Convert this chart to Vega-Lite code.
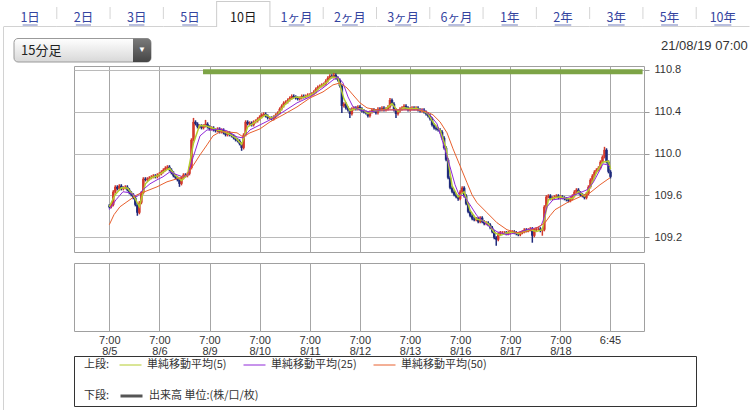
{
 "$schema": "https://vega.github.io/schema/vega-lite/v6.json",
 "padding": 0,
 "background": "white",
 "config": {"view": {"stroke": null}, "font": "Liberation Sans"},
 "datasets": {
  "px": [
{"t":0,"o":109.5,"h":109.515,"l":109.475,"c":109.49},
{"t":0.04,"o":109.49,"h":109.524,"l":109.475,"c":109.509},
{"t":0.08,"o":109.509,"h":109.649,"l":109.494,"c":109.634},
{"t":0.12,"o":109.634,"h":109.696,"l":109.619,"c":109.681},
{"t":0.16,"o":109.681,"h":109.696,"l":109.647,"c":109.662},
{"t":0.2,"o":109.662,"h":109.706,"l":109.647,"c":109.691},
{"t":0.24,"o":109.691,"h":109.706,"l":109.647,"c":109.662},
{"t":0.28,"o":109.662,"h":109.687,"l":109.647,"c":109.672},
{"t":0.32,"o":109.672,"h":109.696,"l":109.657,"c":109.681},
{"t":0.36,"o":109.681,"h":109.696,"l":109.638,"c":109.653},
{"t":0.4,"o":109.653,"h":109.668,"l":109.609,"c":109.624},
{"t":0.44,"o":109.624,"h":109.639,"l":109.59,"c":109.605},
{"t":0.48,"o":109.605,"h":109.62,"l":109.561,"c":109.576},
{"t":0.52,"o":109.576,"h":109.591,"l":109.494,"c":109.509},
{"t":0.56,"o":109.509,"h":109.524,"l":109.404,"c":109.433},
{"t":0.6,"o":109.433,"h":109.544,"l":109.418,"c":109.529},
{"t":0.64,"o":109.529,"h":109.639,"l":109.514,"c":109.624},
{"t":0.68,"o":109.624,"h":109.773,"l":109.609,"c":109.758},
{"t":0.72,"o":109.758,"h":109.773,"l":109.733,"c":109.748},
{"t":0.76,"o":109.748,"h":109.773,"l":109.733,"c":109.758},
{"t":0.8,"o":109.758,"h":109.783,"l":109.743,"c":109.768},
{"t":0.84,"o":109.768,"h":109.792,"l":109.753,"c":109.777},
{"t":0.88,"o":109.777,"h":109.802,"l":109.762,"c":109.787},
{"t":0.92,"o":109.787,"h":109.802,"l":109.762,"c":109.777},
{"t":0.96,"o":109.777,"h":109.811,"l":109.762,"c":109.796},
{"t":1.0,"o":109.796,"h":109.821,"l":109.781,"c":109.806},
{"t":1.04,"o":109.806,"h":109.84,"l":109.791,"c":109.825},
{"t":1.08,"o":109.825,"h":109.859,"l":109.81,"c":109.844},
{"t":1.12,"o":109.844,"h":109.878,"l":109.829,"c":109.863},
{"t":1.16,"o":109.863,"h":109.888,"l":109.848,"c":109.873},
{"t":1.2,"o":109.873,"h":109.888,"l":109.829,"c":109.844},
{"t":1.24,"o":109.844,"h":109.859,"l":109.8,"c":109.815},
{"t":1.28,"o":109.815,"h":109.83,"l":109.772,"c":109.787},
{"t":1.32,"o":109.787,"h":109.802,"l":109.753,"c":109.768},
{"t":1.36,"o":109.768,"h":109.783,"l":109.733,"c":109.748},
{"t":1.4,"o":109.748,"h":109.763,"l":109.681,"c":109.71},
{"t":1.44,"o":109.71,"h":109.783,"l":109.695,"c":109.768},
{"t":1.48,"o":109.768,"h":109.811,"l":109.753,"c":109.796},
{"t":1.52,"o":109.796,"h":109.811,"l":109.772,"c":109.787},
{"t":1.56,"o":109.787,"h":109.821,"l":109.772,"c":109.806},
{"t":1.6,"o":109.806,"h":109.878,"l":109.791,"c":109.863},
{"t":1.64,"o":109.863,"h":110.146,"l":109.848,"c":110.131},
{"t":1.68,"o":110.131,"h":110.341,"l":110.116,"c":110.303},
{"t":1.72,"o":110.303,"h":110.318,"l":110.269,"c":110.284},
{"t":1.76,"o":110.284,"h":110.299,"l":110.24,"c":110.255},
{"t":1.8,"o":110.255,"h":110.28,"l":110.24,"c":110.265},
{"t":1.84,"o":110.265,"h":110.28,"l":110.231,"c":110.246},
{"t":1.88,"o":110.246,"h":110.28,"l":110.231,"c":110.265},
{"t":1.92,"o":110.265,"h":110.322,"l":110.25,"c":110.284},
{"t":1.96,"o":110.284,"h":110.299,"l":110.24,"c":110.255},
{"t":2.0,"o":110.255,"h":110.27,"l":110.221,"c":110.236},
{"t":2.04,"o":110.236,"h":110.261,"l":110.221,"c":110.246},
{"t":2.08,"o":110.246,"h":110.261,"l":110.211,"c":110.226},
{"t":2.12,"o":110.226,"h":110.241,"l":110.202,"c":110.217},
{"t":2.16,"o":110.217,"h":110.251,"l":110.202,"c":110.236},
{"t":2.2,"o":110.236,"h":110.251,"l":110.192,"c":110.207},
{"t":2.24,"o":110.207,"h":110.241,"l":110.192,"c":110.226},
{"t":2.28,"o":110.226,"h":110.241,"l":110.183,"c":110.198},
{"t":2.32,"o":110.198,"h":110.213,"l":110.164,"c":110.179},
{"t":2.36,"o":110.179,"h":110.213,"l":110.164,"c":110.198},
{"t":2.4,"o":110.198,"h":110.213,"l":110.164,"c":110.179},
{"t":2.44,"o":110.179,"h":110.194,"l":110.154,"c":110.169},
{"t":2.48,"o":110.169,"h":110.184,"l":110.135,"c":110.15},
{"t":2.52,"o":110.15,"h":110.165,"l":110.116,"c":110.131},
{"t":2.56,"o":110.131,"h":110.146,"l":110.106,"c":110.121},
{"t":2.6,"o":110.121,"h":110.136,"l":110.078,"c":110.093},
{"t":2.64,"o":110.093,"h":110.108,"l":110.026,"c":110.054},
{"t":2.68,"o":110.054,"h":110.194,"l":110.039,"c":110.179},
{"t":2.72,"o":110.179,"h":110.318,"l":110.164,"c":110.303},
{"t":2.76,"o":110.303,"h":110.318,"l":110.269,"c":110.284},
{"t":2.8,"o":110.284,"h":110.308,"l":110.269,"c":110.293},
{"t":2.84,"o":110.293,"h":110.308,"l":110.259,"c":110.274},
{"t":2.88,"o":110.274,"h":110.318,"l":110.259,"c":110.303},
{"t":2.92,"o":110.303,"h":110.327,"l":110.288,"c":110.312},
{"t":2.96,"o":110.312,"h":110.347,"l":110.297,"c":110.332},
{"t":3.0,"o":110.332,"h":110.366,"l":110.317,"c":110.351},
{"t":3.04,"o":110.351,"h":110.385,"l":110.336,"c":110.37},
{"t":3.08,"o":110.37,"h":110.394,"l":110.355,"c":110.379},
{"t":3.12,"o":110.379,"h":110.394,"l":110.345,"c":110.36},
{"t":3.16,"o":110.36,"h":110.375,"l":110.326,"c":110.341},
{"t":3.2,"o":110.341,"h":110.356,"l":110.326,"c":110.341},
{"t":3.24,"o":110.341,"h":110.356,"l":110.317,"c":110.332},
{"t":3.28,"o":110.332,"h":110.366,"l":110.317,"c":110.351},
{"t":3.32,"o":110.351,"h":110.385,"l":110.336,"c":110.37},
{"t":3.36,"o":110.37,"h":110.404,"l":110.355,"c":110.389},
{"t":3.4,"o":110.389,"h":110.442,"l":110.374,"c":110.427},
{"t":3.44,"o":110.427,"h":110.471,"l":110.412,"c":110.456},
{"t":3.48,"o":110.456,"h":110.5,"l":110.441,"c":110.485},
{"t":3.52,"o":110.485,"h":110.509,"l":110.47,"c":110.494},
{"t":3.56,"o":110.494,"h":110.528,"l":110.479,"c":110.513},
{"t":3.6,"o":110.513,"h":110.547,"l":110.498,"c":110.532},
{"t":3.64,"o":110.532,"h":110.566,"l":110.517,"c":110.551},
{"t":3.68,"o":110.551,"h":110.566,"l":110.527,"c":110.542},
{"t":3.72,"o":110.542,"h":110.557,"l":110.517,"c":110.532},
{"t":3.76,"o":110.532,"h":110.547,"l":110.508,"c":110.523},
{"t":3.8,"o":110.523,"h":110.547,"l":110.508,"c":110.532},
{"t":3.84,"o":110.532,"h":110.566,"l":110.517,"c":110.551},
{"t":3.88,"o":110.551,"h":110.566,"l":110.527,"c":110.542},
{"t":3.92,"o":110.542,"h":110.566,"l":110.527,"c":110.551},
{"t":3.96,"o":110.551,"h":110.576,"l":110.536,"c":110.561},
{"t":4.0,"o":110.561,"h":110.576,"l":110.546,"c":110.561},
{"t":4.04,"o":110.561,"h":110.586,"l":110.546,"c":110.571},
{"t":4.08,"o":110.571,"h":110.605,"l":110.556,"c":110.59},
{"t":4.12,"o":110.59,"h":110.633,"l":110.575,"c":110.618},
{"t":4.16,"o":110.618,"h":110.652,"l":110.603,"c":110.637},
{"t":4.2,"o":110.637,"h":110.662,"l":110.622,"c":110.647},
{"t":4.24,"o":110.647,"h":110.672,"l":110.632,"c":110.657},
{"t":4.28,"o":110.657,"h":110.681,"l":110.642,"c":110.666},
{"t":4.32,"o":110.666,"h":110.71,"l":110.651,"c":110.695},
{"t":4.36,"o":110.695,"h":110.739,"l":110.68,"c":110.724},
{"t":4.4,"o":110.724,"h":110.758,"l":110.709,"c":110.743},
{"t":4.44,"o":110.743,"h":110.758,"l":110.718,"c":110.733},
{"t":4.48,"o":110.733,"h":110.771,"l":110.718,"c":110.752},
{"t":4.52,"o":110.752,"h":110.767,"l":110.709,"c":110.724},
{"t":4.56,"o":110.724,"h":110.739,"l":110.689,"c":110.704},
{"t":4.6,"o":110.704,"h":110.719,"l":110.632,"c":110.647},
{"t":4.64,"o":110.647,"h":110.662,"l":110.389,"c":110.456},
{"t":4.68,"o":110.456,"h":110.49,"l":110.441,"c":110.475},
{"t":4.72,"o":110.475,"h":110.49,"l":110.422,"c":110.437},
{"t":4.76,"o":110.437,"h":110.452,"l":110.403,"c":110.418},
{"t":4.8,"o":110.418,"h":110.433,"l":110.341,"c":110.379},
{"t":4.84,"o":110.379,"h":110.442,"l":110.364,"c":110.427},
{"t":4.88,"o":110.427,"h":110.452,"l":110.412,"c":110.437},
{"t":4.92,"o":110.437,"h":110.452,"l":110.412,"c":110.427},
{"t":4.96,"o":110.427,"h":110.461,"l":110.412,"c":110.446},
{"t":5.0,"o":110.446,"h":110.461,"l":110.412,"c":110.427},
{"t":5.04,"o":110.427,"h":110.442,"l":110.393,"c":110.408},
{"t":5.08,"o":110.408,"h":110.423,"l":110.383,"c":110.398},
{"t":5.12,"o":110.398,"h":110.413,"l":110.374,"c":110.389},
{"t":5.16,"o":110.389,"h":110.404,"l":110.345,"c":110.36},
{"t":5.2,"o":110.36,"h":110.413,"l":110.345,"c":110.398},
{"t":5.24,"o":110.398,"h":110.433,"l":110.383,"c":110.418},
{"t":5.28,"o":110.418,"h":110.433,"l":110.393,"c":110.408},
{"t":5.32,"o":110.408,"h":110.423,"l":110.374,"c":110.389},
{"t":5.36,"o":110.389,"h":110.442,"l":110.374,"c":110.427},
{"t":5.4,"o":110.427,"h":110.442,"l":110.403,"c":110.418},
{"t":5.44,"o":110.418,"h":110.452,"l":110.403,"c":110.437},
{"t":5.48,"o":110.437,"h":110.452,"l":110.403,"c":110.418},
{"t":5.52,"o":110.418,"h":110.442,"l":110.403,"c":110.427},
{"t":5.56,"o":110.427,"h":110.461,"l":110.412,"c":110.446},
{"t":5.6,"o":110.446,"h":110.532,"l":110.431,"c":110.513},
{"t":5.64,"o":110.513,"h":110.528,"l":110.46,"c":110.475},
{"t":5.68,"o":110.475,"h":110.49,"l":110.403,"c":110.418},
{"t":5.72,"o":110.418,"h":110.433,"l":110.341,"c":110.379},
{"t":5.76,"o":110.379,"h":110.423,"l":110.364,"c":110.408},
{"t":5.8,"o":110.408,"h":110.442,"l":110.393,"c":110.427},
{"t":5.84,"o":110.427,"h":110.452,"l":110.412,"c":110.437},
{"t":5.88,"o":110.437,"h":110.471,"l":110.422,"c":110.456},
{"t":5.92,"o":110.456,"h":110.471,"l":110.422,"c":110.437},
{"t":5.96,"o":110.437,"h":110.452,"l":110.403,"c":110.418},
{"t":6.0,"o":110.418,"h":110.442,"l":110.403,"c":110.427},
{"t":6.04,"o":110.427,"h":110.452,"l":110.412,"c":110.437},
{"t":6.08,"o":110.437,"h":110.452,"l":110.412,"c":110.427},
{"t":6.12,"o":110.427,"h":110.452,"l":110.412,"c":110.437},
{"t":6.16,"o":110.437,"h":110.452,"l":110.403,"c":110.418},
{"t":6.2,"o":110.418,"h":110.433,"l":110.393,"c":110.408},
{"t":6.24,"o":110.408,"h":110.433,"l":110.393,"c":110.418},
{"t":6.28,"o":110.418,"h":110.433,"l":110.383,"c":110.398},
{"t":6.32,"o":110.398,"h":110.413,"l":110.364,"c":110.379},
{"t":6.36,"o":110.379,"h":110.394,"l":110.345,"c":110.36},
{"t":6.4,"o":110.36,"h":110.375,"l":110.317,"c":110.332},
{"t":6.44,"o":110.332,"h":110.347,"l":110.259,"c":110.274},
{"t":6.48,"o":110.274,"h":110.289,"l":110.231,"c":110.246},
{"t":6.52,"o":110.246,"h":110.261,"l":110.221,"c":110.236},
{"t":6.56,"o":110.236,"h":110.251,"l":110.211,"c":110.226},
{"t":6.6,"o":110.226,"h":110.241,"l":110.192,"c":110.207},
{"t":6.64,"o":110.207,"h":110.222,"l":110.135,"c":110.15},
{"t":6.68,"o":110.15,"h":110.165,"l":110.039,"c":110.054},
{"t":6.72,"o":110.054,"h":110.069,"l":109.925,"c":109.94},
{"t":6.76,"o":109.94,"h":109.955,"l":109.753,"c":109.768},
{"t":6.8,"o":109.768,"h":109.783,"l":109.657,"c":109.672},
{"t":6.84,"o":109.672,"h":109.687,"l":109.619,"c":109.634},
{"t":6.88,"o":109.634,"h":109.649,"l":109.59,"c":109.605},
{"t":6.92,"o":109.605,"h":109.62,"l":109.571,"c":109.586},
{"t":6.96,"o":109.586,"h":109.601,"l":109.548,"c":109.567},
{"t":7.0,"o":109.567,"h":109.649,"l":109.552,"c":109.634},
{"t":7.04,"o":109.634,"h":109.687,"l":109.619,"c":109.672},
{"t":7.08,"o":109.672,"h":109.687,"l":109.58,"c":109.595},
{"t":7.12,"o":109.595,"h":109.61,"l":109.504,"c":109.519},
{"t":7.16,"o":109.519,"h":109.534,"l":109.427,"c":109.442},
{"t":7.2,"o":109.442,"h":109.457,"l":109.389,"c":109.404},
{"t":7.24,"o":109.404,"h":109.419,"l":109.361,"c":109.376},
{"t":7.28,"o":109.376,"h":109.391,"l":109.351,"c":109.366},
{"t":7.32,"o":109.366,"h":109.391,"l":109.351,"c":109.376},
{"t":7.36,"o":109.376,"h":109.391,"l":109.332,"c":109.347},
{"t":7.4,"o":109.347,"h":109.4,"l":109.332,"c":109.385},
{"t":7.44,"o":109.385,"h":109.4,"l":109.332,"c":109.347},
{"t":7.48,"o":109.347,"h":109.362,"l":109.313,"c":109.328},
{"t":7.52,"o":109.328,"h":109.352,"l":109.313,"c":109.337},
{"t":7.56,"o":109.337,"h":109.352,"l":109.303,"c":109.318},
{"t":7.6,"o":109.318,"h":109.333,"l":109.275,"c":109.29},
{"t":7.64,"o":109.29,"h":109.305,"l":109.236,"c":109.251},
{"t":7.68,"o":109.251,"h":109.266,"l":109.179,"c":109.194},
{"t":7.72,"o":109.194,"h":109.209,"l":109.117,"c":109.175},
{"t":7.76,"o":109.175,"h":109.247,"l":109.16,"c":109.232},
{"t":7.8,"o":109.232,"h":109.257,"l":109.217,"c":109.242},
{"t":7.84,"o":109.242,"h":109.257,"l":109.227,"c":109.242},
{"t":7.88,"o":109.242,"h":109.257,"l":109.227,"c":109.242},
{"t":7.92,"o":109.242,"h":109.257,"l":109.217,"c":109.232},
{"t":7.96,"o":109.232,"h":109.257,"l":109.217,"c":109.242},
{"t":8.0,"o":109.242,"h":109.266,"l":109.227,"c":109.251},
{"t":8.04,"o":109.251,"h":109.266,"l":109.236,"c":109.251},
{"t":8.08,"o":109.251,"h":109.266,"l":109.227,"c":109.242},
{"t":8.12,"o":109.242,"h":109.257,"l":109.217,"c":109.232},
{"t":8.16,"o":109.232,"h":109.247,"l":109.208,"c":109.223},
{"t":8.2,"o":109.223,"h":109.257,"l":109.208,"c":109.242},
{"t":8.24,"o":109.242,"h":109.266,"l":109.227,"c":109.251},
{"t":8.28,"o":109.251,"h":109.285,"l":109.236,"c":109.27},
{"t":8.32,"o":109.27,"h":109.285,"l":109.246,"c":109.261},
{"t":8.36,"o":109.261,"h":109.285,"l":109.246,"c":109.27},
{"t":8.4,"o":109.27,"h":109.295,"l":109.255,"c":109.28},
{"t":8.44,"o":109.28,"h":109.295,"l":109.146,"c":109.213},
{"t":8.48,"o":109.213,"h":109.285,"l":109.198,"c":109.27},
{"t":8.52,"o":109.27,"h":109.295,"l":109.255,"c":109.28},
{"t":8.56,"o":109.28,"h":109.295,"l":109.265,"c":109.28},
{"t":8.6,"o":109.28,"h":109.295,"l":109.246,"c":109.261},
{"t":8.64,"o":109.261,"h":109.285,"l":109.213,"c":109.27},
{"t":8.68,"o":109.27,"h":109.505,"l":109.255,"c":109.49},
{"t":8.72,"o":109.49,"h":109.601,"l":109.475,"c":109.586},
{"t":8.76,"o":109.586,"h":109.61,"l":109.571,"c":109.595},
{"t":8.8,"o":109.595,"h":109.61,"l":109.552,"c":109.567},
{"t":8.84,"o":109.567,"h":109.591,"l":109.552,"c":109.576},
{"t":8.88,"o":109.576,"h":109.601,"l":109.561,"c":109.586},
{"t":8.92,"o":109.586,"h":109.61,"l":109.571,"c":109.595},
{"t":8.96,"o":109.595,"h":109.61,"l":109.561,"c":109.576},
{"t":9.0,"o":109.576,"h":109.601,"l":109.561,"c":109.586},
{"t":9.04,"o":109.586,"h":109.601,"l":109.561,"c":109.576},
{"t":9.08,"o":109.576,"h":109.591,"l":109.552,"c":109.567},
{"t":9.12,"o":109.567,"h":109.582,"l":109.542,"c":109.557},
{"t":9.16,"o":109.557,"h":109.572,"l":109.533,"c":109.548},
{"t":9.2,"o":109.548,"h":109.582,"l":109.533,"c":109.567},
{"t":9.24,"o":109.567,"h":109.61,"l":109.552,"c":109.595},
{"t":9.28,"o":109.595,"h":109.649,"l":109.58,"c":109.634},
{"t":9.32,"o":109.634,"h":109.668,"l":109.619,"c":109.653},
{"t":9.36,"o":109.653,"h":109.668,"l":109.609,"c":109.624},
{"t":9.4,"o":109.624,"h":109.639,"l":109.59,"c":109.605},
{"t":9.44,"o":109.605,"h":109.62,"l":109.58,"c":109.595},
{"t":9.48,"o":109.595,"h":109.61,"l":109.561,"c":109.576},
{"t":9.52,"o":109.576,"h":109.63,"l":109.561,"c":109.615},
{"t":9.56,"o":109.615,"h":109.696,"l":109.6,"c":109.681},
{"t":9.6,"o":109.681,"h":109.763,"l":109.666,"c":109.748},
{"t":9.64,"o":109.748,"h":109.802,"l":109.733,"c":109.787},
{"t":9.68,"o":109.787,"h":109.84,"l":109.772,"c":109.825},
{"t":9.72,"o":109.825,"h":109.859,"l":109.81,"c":109.844},
{"t":9.76,"o":109.844,"h":109.878,"l":109.829,"c":109.863},
{"t":9.8,"o":109.863,"h":109.935,"l":109.848,"c":109.92},
{"t":9.84,"o":109.92,"h":109.983,"l":109.905,"c":109.968},
{"t":9.88,"o":109.968,"h":110.064,"l":109.953,"c":110.035},
{"t":9.92,"o":110.035,"h":110.05,"l":109.905,"c":109.92},
{"t":9.96,"o":109.92,"h":109.935,"l":109.81,"c":109.825},
{"t":10.0,"o":109.825,"h":109.84,"l":109.762,"c":109.777}
  ],
  "ma5": [
{"t":0,"v":109.49},{"t":0.12,"v":109.608},{"t":0.24,"v":109.672},{"t":0.36,"v":109.669},{"t":0.48,"v":109.602},{"t":0.6,"v":109.49},{"t":0.72,"v":109.71},{"t":0.84,"v":109.768},{"t":0.96,"v":109.787},{"t":1.08,"v":109.825},{"t":1.2,"v":109.86},{"t":1.32,"v":109.79},{"t":1.44,"v":109.742},{"t":1.56,"v":109.796},{"t":1.68,"v":110.099},{"t":1.8,"v":110.268},{"t":1.92,"v":110.265},{"t":2.04,"v":110.246},{"t":2.16,"v":110.226},{"t":2.28,"v":110.21},{"t":2.4,"v":110.185},{"t":2.52,"v":110.15},{"t":2.64,"v":110.089},{"t":2.76,"v":110.255},{"t":2.88,"v":110.29},{"t":3.0,"v":110.332},{"t":3.12,"v":110.37},{"t":3.24,"v":110.338},{"t":3.36,"v":110.37},{"t":3.48,"v":110.456},{"t":3.6,"v":110.513},{"t":3.72,"v":110.542},{"t":3.84,"v":110.535},{"t":3.96,"v":110.551},{"t":4.08,"v":110.574},{"t":4.2,"v":110.634},{"t":4.32,"v":110.673},{"t":4.44,"v":110.733},{"t":4.56,"v":110.727},{"t":4.68,"v":110.526},{"t":4.8,"v":110.411},{"t":4.92,"v":110.43},{"t":5.04,"v":110.427},{"t":5.16,"v":110.382},{"t":5.28,"v":110.408},{"t":5.4,"v":110.411},{"t":5.52,"v":110.427},{"t":5.64,"v":110.478},{"t":5.76,"v":110.402},{"t":5.88,"v":110.44},{"t":6.0,"v":110.427},{"t":6.12,"v":110.434},{"t":6.24,"v":110.415},{"t":6.36,"v":110.379},{"t":6.48,"v":110.284},{"t":6.6,"v":110.223},{"t":6.72,"v":110.048},{"t":6.84,"v":109.691},{"t":6.96,"v":109.586},{"t":7.08,"v":109.634},{"t":7.2,"v":109.455},{"t":7.32,"v":109.373},{"t":7.44,"v":109.36},{"t":7.56,"v":109.328},{"t":7.68,"v":109.245},{"t":7.8,"v":109.216},{"t":7.92,"v":109.239},{"t":8.04,"v":109.248},{"t":8.16,"v":109.232},{"t":8.28,"v":109.254},{"t":8.4,"v":109.27},{"t":8.52,"v":109.254},{"t":8.64,"v":109.27},{"t":8.76,"v":109.557},{"t":8.88,"v":109.576},{"t":9.0,"v":109.586},{"t":9.12,"v":109.567},{"t":9.24,"v":109.57},{"t":9.36,"v":109.637},{"t":9.48,"v":109.592},{"t":9.6,"v":109.681},{"t":9.72,"v":109.819},{"t":9.84,"v":109.917},{"t":9.96,"v":109.927},{"t":10.0,"v":109.85}
  ],
  "ma25": [
{"t":0,"v":109.462},{"t":0.134,"v":109.557},{"t":0.273,"v":109.634},{"t":0.413,"v":109.624},{"t":0.553,"v":109.586},{"t":0.672,"v":109.653},{"t":0.812,"v":109.71},{"t":0.952,"v":109.748},{"t":1.071,"v":109.777},{"t":1.211,"v":109.825},{"t":1.351,"v":109.796},{"t":1.47,"v":109.777},{"t":1.57,"v":109.796},{"t":1.67,"v":109.959},{"t":1.81,"v":110.169},{"t":1.95,"v":110.226},{"t":2.069,"v":110.226},{"t":2.209,"v":110.236},{"t":2.349,"v":110.217},{"t":2.548,"v":110.159},{"t":2.668,"v":110.15},{"t":2.807,"v":110.226},{"t":3.007,"v":110.274},{"t":3.206,"v":110.322},{"t":3.466,"v":110.398},{"t":3.745,"v":110.485},{"t":4.005,"v":110.542},{"t":4.264,"v":110.628},{"t":4.463,"v":110.704},{"t":4.563,"v":110.733},{"t":4.663,"v":110.676},{"t":4.763,"v":110.542},{"t":4.863,"v":110.446},{"t":5.002,"v":110.418},{"t":5.202,"v":110.398},{"t":5.461,"v":110.418},{"t":5.74,"v":110.418},{"t":6.0,"v":110.418},{"t":6.259,"v":110.418},{"t":6.399,"v":110.37},{"t":6.539,"v":110.284},{"t":6.658,"v":110.102},{"t":6.798,"v":109.873},{"t":6.898,"v":109.701},{"t":6.977,"v":109.605},{"t":7.077,"v":109.595},{"t":7.197,"v":109.509},{"t":7.336,"v":109.404},{"t":7.536,"v":109.318},{"t":7.735,"v":109.251},{"t":7.935,"v":109.223},{"t":8.135,"v":109.242},{"t":8.334,"v":109.27},{"t":8.534,"v":109.29},{"t":8.614,"v":109.309},{"t":8.654,"v":109.356},{"t":8.734,"v":109.49},{"t":8.853,"v":109.557},{"t":9.133,"v":109.576},{"t":9.392,"v":109.624},{"t":9.532,"v":109.653},{"t":9.652,"v":109.72},{"t":9.791,"v":109.844},{"t":9.851,"v":109.901},{"t":9.931,"v":109.892},{"t":9.991,"v":109.873}
  ],
  "ma50": [
{"t":0,"v":109.318},{"t":0.094,"v":109.414},{"t":0.213,"v":109.49},{"t":0.353,"v":109.538},{"t":0.553,"v":109.605},{"t":0.752,"v":109.643},{"t":0.952,"v":109.681},{"t":1.151,"v":109.729},{"t":1.351,"v":109.758},{"t":1.55,"v":109.796},{"t":1.67,"v":109.882},{"t":1.81,"v":109.987},{"t":1.95,"v":110.083},{"t":2.069,"v":110.169},{"t":2.209,"v":110.207},{"t":2.349,"v":110.207},{"t":2.548,"v":110.198},{"t":2.668,"v":110.159},{"t":2.807,"v":110.198},{"t":3.007,"v":110.236},{"t":3.206,"v":110.303},{"t":3.466,"v":110.37},{"t":3.745,"v":110.446},{"t":4.005,"v":110.532},{"t":4.264,"v":110.59},{"t":4.463,"v":110.657},{"t":4.603,"v":110.676},{"t":4.743,"v":110.628},{"t":4.863,"v":110.561},{"t":5.002,"v":110.485},{"t":5.142,"v":110.437},{"t":5.342,"v":110.418},{"t":5.601,"v":110.418},{"t":5.86,"v":110.418},{"t":6.14,"v":110.418},{"t":6.339,"v":110.398},{"t":6.459,"v":110.37},{"t":6.599,"v":110.303},{"t":6.738,"v":110.198},{"t":6.858,"v":110.045},{"t":6.998,"v":109.882},{"t":7.137,"v":109.72},{"t":7.237,"v":109.605},{"t":7.336,"v":109.529},{"t":7.536,"v":109.433},{"t":7.735,"v":109.337},{"t":7.935,"v":109.27},{"t":8.135,"v":109.242},{"t":8.334,"v":109.251},{"t":8.534,"v":109.29},{"t":8.694,"v":109.337},{"t":8.793,"v":109.404},{"t":8.893,"v":109.462},{"t":9.133,"v":109.529},{"t":9.392,"v":109.586},{"t":9.591,"v":109.624},{"t":9.791,"v":109.701},{"t":9.931,"v":109.748},{"t":9.991,"v":109.768}
  ]
 },
 "spacing": 0,
 "bounds": "flush",
 "resolve": {"scale": {"color": "independent", "stroke": "independent"}},
 "vconcat": [
  {
   "width": 750,
   "height": 66,
   "data": {"values": [{"tab":"1日"},{"tab":"2日"},{"tab":"3日"},{"tab":"5日"},{"tab":"10日"},{"tab":"1ヶ月"},{"tab":"2ヶ月"},{"tab":"3ヶ月"},{"tab":"6ヶ月"},{"tab":"1年"},{"tab":"2年"},{"tab":"3年"},{"tab":"5年"},{"tab":"10年"}]},
   "layer": [
    {
     "transform": [{"filter": "datum.tab != '10日'"}],
     "mark": {"type": "rect", "color": "#d2d2d2"},
     "encoding": {
      "x": {"field": "tab", "type": "nominal", "scale": {"type": "band", "domain": ["1日","2日","3日","5日","10日","1ヶ月","2ヶ月","3ヶ月","6ヶ月","1年","2年","3年","5年","10年"], "range": [3.5, 749.5], "paddingInner": 0, "paddingOuter": 0}, "axis": null},
      "y": {"value": 26},
      "y2": {"value": 27}
     }
    },
    {
     "transform": [{"filter": "datum.tab != '1日' && datum.tab != '10日' && datum.tab != '1ヶ月'"}],
     "mark": {"type": "rule", "color": "#d4d4d4"},
     "encoding": {
      "x": {"field": "tab", "type": "nominal", "bandPosition": 0},
      "y": {"value": 7},
      "y2": {"value": 19}
     }
    },
    {
     "transform": [{"filter": "datum.tab == '10日'"}],
     "mark": {"type": "rule", "color": "#cccccc"},
     "encoding": {
      "x": {"field": "tab", "type": "nominal", "bandPosition": 0},
      "y": {"value": 1},
      "y2": {"value": 27}
     }
    },
    {
     "transform": [{"filter": "datum.tab == '10日'"}],
     "mark": {"type": "rule", "color": "#cccccc"},
     "encoding": {
      "x": {"field": "tab", "type": "nominal", "bandPosition": 1},
      "y": {"value": 1},
      "y2": {"value": 27}
     }
    },
    {
     "transform": [{"filter": "datum.tab == '10日'"}],
     "mark": {"type": "rect", "color": "#cccccc"},
     "encoding": {
      "x": {"field": "tab", "type": "nominal"},
      "y": {"value": 1},
      "y2": {"value": 2}
     }
    },
    {
     "mark": {"type": "text", "font": "Noto Sans CJK JP", "fontSize": 12.5, "baseline": "middle"},
     "encoding": {
      "x": {"field": "tab", "type": "nominal"},
      "y": {"value": 17.5},
      "text": {"field": "tab"},
      "color": {"condition": {"test": "datum.tab == '10日'", "value": "#1a1a1a"}, "value": "#34449f"},
      "fontWeight": {"condition": {"test": "datum.tab == '10日'", "value": "bold"}, "value": "normal"}
     }
    },
    {
     "transform": [{"filter": "datum.tab != '10日'"}],
     "mark": {"type": "tick", "orient": "horizontal", "thickness": 1, "color": "#34449f"},
     "encoding": {
      "x": {"field": "tab", "type": "nominal"},
      "y": {"value": 25},
      "size": {"field": "tab", "type": "ordinal", "scale": {"domain": ["1日","2日","3日","5日","1ヶ月","2ヶ月","3ヶ月","6ヶ月","1年","2年","3年","5年","10年"], "range": [15,17,17,18,32,33,34,34,20,20,20,20,29]}, "legend": null}
     }
    },
    {
     "data": {"values": [{"label": "15分足"}]},
     "layer": [
      {"mark": {"type": "rule", "color": "#d2d2d2"}, "encoding": {"x": {"value": 3.5}, "y": {"value": 27}, "y2": {"value": 66}}},
      {"mark": {"type": "rect", "cornerRadius": 4, "stroke": "#9a9a9a", "strokeWidth": 1, "fill": {"gradient": "linear", "x1": 0, "y1": 0, "x2": 0, "y2": 1, "stops": [{"offset": 0, "color": "#ffffff"}, {"offset": 1, "color": "#d8d8d8"}]}},
       "encoding": {"x": {"value": 14}, "x2": {"value": 151}, "y": {"value": 38.5}, "y2": {"value": 62}}},
      {"mark": {"type": "rect", "cornerRadiusTopRight": 4, "cornerRadiusBottomRight": 4, "fill": {"gradient": "linear", "x1": 0, "y1": 0, "x2": 0, "y2": 1, "stops": [{"offset": 0, "color": "#7a7a7a"}, {"offset": 1, "color": "#454545"}]}},
       "encoding": {"x": {"value": 133}, "x2": {"value": 151}, "y": {"value": 38.5}, "y2": {"value": 62}}},
      {"mark": {"type": "text", "text": "▼", "color": "white", "fontSize": 8, "align": "center", "baseline": "middle"},
       "encoding": {"x": {"value": 142}, "y": {"value": 50}}},
      {"mark": {"type": "text", "font": "Noto Sans CJK JP", "fontSize": 13, "color": "#222222", "align": "left", "baseline": "middle"},
       "encoding": {"x": {"value": 21}, "y": {"value": 50.5}, "text": {"field": "label"}}},
      {"mark": {"type": "text", "text": "21/08/19 07:00", "font": "Liberation Sans", "fontSize": 13, "color": "#333333", "align": "left", "baseline": "middle"},
       "encoding": {"x": {"value": 661}, "y": {"value": 46}}}
     ]
    }
   ]
  },
  {
   "spacing": 0,
   "bounds": "flush",
   "resolve": {"scale": {"color": "independent", "stroke": "independent"}},
   "hconcat": [
    {
     "width": 74,
     "height": 344,
     "data": {"values": [{}]},
     "mark": {"type": "rule", "color": "#d2d2d2"},
     "encoding": {"x": {"value": 3.5}, "y": {"value": 0}, "y2": {"value": 344}}
    },
    {
     "spacing": 11,
     "bounds": "flush",
     "resolve": {"scale": {"color": "independent", "stroke": "independent"}},
     "vconcat": [
        {
         "width": 570,
         "height": 186,
         "view": {"stroke": "#a0a0a0"},
         "layer": [
          {
           "data": {"values": [{"t0": 1.87, "t1": 10.64, "v": 110.783}]},
           "mark": {"type": "rule", "color": "#7da446", "strokeWidth": 5},
           "encoding": {
            "x": {"field": "t0", "type": "quantitative", "scale": {"domain": [-0.704, 10.668], "nice": false, "zero": false},
                  "axis": {"values": [0,1,2,3,4,5,6,7,8,9,9.99], "grid": true, "gridColor": "#a6a6a6", "labels": false, "ticks": false, "domain": false, "title": null}},
            "x2": {"field": "t1"},
            "y": {"field": "v", "type": "quantitative", "scale": {"domain": [109.057, 110.838], "nice": false, "zero": false},
                  "axis": {"orient": "right", "values": [109.2,109.4,109.6,109.8,110.0,110.2,110.4,110.6,110.8], "format": ".1f", "grid": true, "gridColor": "#bababa", "domain": false, "ticks": true, "tickSize": 5, "tickColor": "#999999", "labelPadding": 5, "labelFont": "Liberation Sans", "labelFontSize": 11, "labelColor": "#333333", "title": null}}
           }
          },
          {
           "data": {"name": "px"},
           "mark": {"type": "rule", "strokeWidth": 1.5},
           "encoding": {
            "x": {"field": "t", "type": "quantitative"},
            "y": {"field": "l", "type": "quantitative"},
            "y2": {"field": "h"},
            "color": {"condition": {"test": "datum.c >= datum.o", "value": "#d33a2c"}, "value": "#1f2a7c"}
           }
          },
          {
           "data": {"name": "px"},
           "mark": {"type": "rule", "strokeWidth": 2.5},
           "encoding": {
            "x": {"field": "t", "type": "quantitative"},
            "y": {"field": "o", "type": "quantitative"},
            "y2": {"field": "c"},
            "color": {"condition": {"test": "datum.c >= datum.o", "value": "#d33a2c"}, "value": "#1f2a7c"}
           }
          },
          {
           "data": {"name": "ma5"},
           "mark": {"type": "line", "strokeWidth": 1.5},
           "encoding": {
            "x": {"field": "t", "type": "quantitative"},
            "y": {"field": "v", "type": "quantitative"},
            "color": {"datum": "単純移動平均(5)", "type": "nominal",
              "scale": {"domain": ["単純移動平均(5)", "単純移動平均(25)", "単純移動平均(50)"], "range": ["#b4cc2e", "#9028d8", "#e8602e"]},
              "legend": {"orient": "none", "legendX": 10, "legendY": 293, "direction": "horizontal", "title": "上段:", "titleOrient": "left", "titleFont": "Noto Sans CJK JP", "titleFontSize": 11, "titleFontWeight": "normal", "titleColor": "#333333", "titlePadding": 9, "symbolType": "M-1,0H3", "symbolSize": 121, "symbolStrokeWidth": 1, "labelFont": "Noto Sans CJK JP", "labelFontSize": 11, "labelColor": "#333333", "labelOffset": 16, "labelLimit": 200, "columnPadding": 14, "padding": 0}}
           }
          },
          {
           "data": {"name": "ma25"},
           "mark": {"type": "line", "strokeWidth": 1},
           "encoding": {
            "x": {"field": "t", "type": "quantitative"},
            "y": {"field": "v", "type": "quantitative"},
            "color": {"datum": "単純移動平均(25)", "type": "nominal"}
           }
          },
          {
           "data": {"name": "ma50"},
           "mark": {"type": "line", "strokeWidth": 1},
           "encoding": {
            "x": {"field": "t", "type": "quantitative"},
            "y": {"field": "v", "type": "quantitative"},
            "color": {"datum": "単純移動平均(50)", "type": "nominal"}
           }
          }
         ]
        },
        {
         "width": 570,
         "height": 68,
         "view": {"stroke": "#a0a0a0"},
         "data": {"values": [{"t": 0, "vol": 0, "s": "出来高 単位:(株/口/枚)"}]},
         "mark": {"type": "rule", "strokeWidth": 3},
         "encoding": {
          "x": {"field": "t", "type": "quantitative", "scale": {"domain": [-0.704, 10.668], "nice": false, "zero": false},
                "axis": {"values": [0,1,2,3,4,5,6,7,8,9,9.99], "labelExpr": "datum.value > 9.5 ? '6:45' : ['7:00', ['8/5','8/6','8/9','8/10','8/11','8/12','8/13','8/16','8/17','8/18'][round(datum.value)]]", "grid": true, "gridColor": "#a6a6a6", "ticks": false, "domain": false, "title": null, "labelFont": "Liberation Sans", "labelFontSize": 11, "labelColor": "#333333", "labelPadding": 3, "labelLineHeight": 11, "labelOverlap": false, "labelFlush": false}},
          "y": {"field": "vol", "type": "quantitative", "scale": {"domain": [0, 1]}, "axis": null},
          "y2": {"field": "vol"},
          "stroke": {"field": "s", "type": "nominal", "scale": {"range": ["#555555"]},
            "legend": {"orient": "none", "legendX": 10, "legendY": 126, "direction": "horizontal", "title": "下段:", "titleOrient": "left", "titleFont": "Noto Sans CJK JP", "titleFontSize": 11, "titleFontWeight": "normal", "titleColor": "#333333", "titlePadding": 9, "symbolType": "M-1,0H3", "symbolSize": 121, "symbolStrokeWidth": 3, "labelFont": "Noto Sans CJK JP", "labelFontSize": 11, "labelColor": "#333333", "labelOffset": 16, "labelLimit": 250, "padding": 0}}
         }
        },
        {
         "width": 570,
         "height": 3,
         "data": {"values": []},
         "mark": "point"
        },
        {
         "width": 622,
         "height": 50,
         "view": {"stroke": "#333333", "strokeWidth": 1},
         "data": {"values": []},
         "mark": "point"
        }
     ]
    }
   ]
  }
 ]
}
